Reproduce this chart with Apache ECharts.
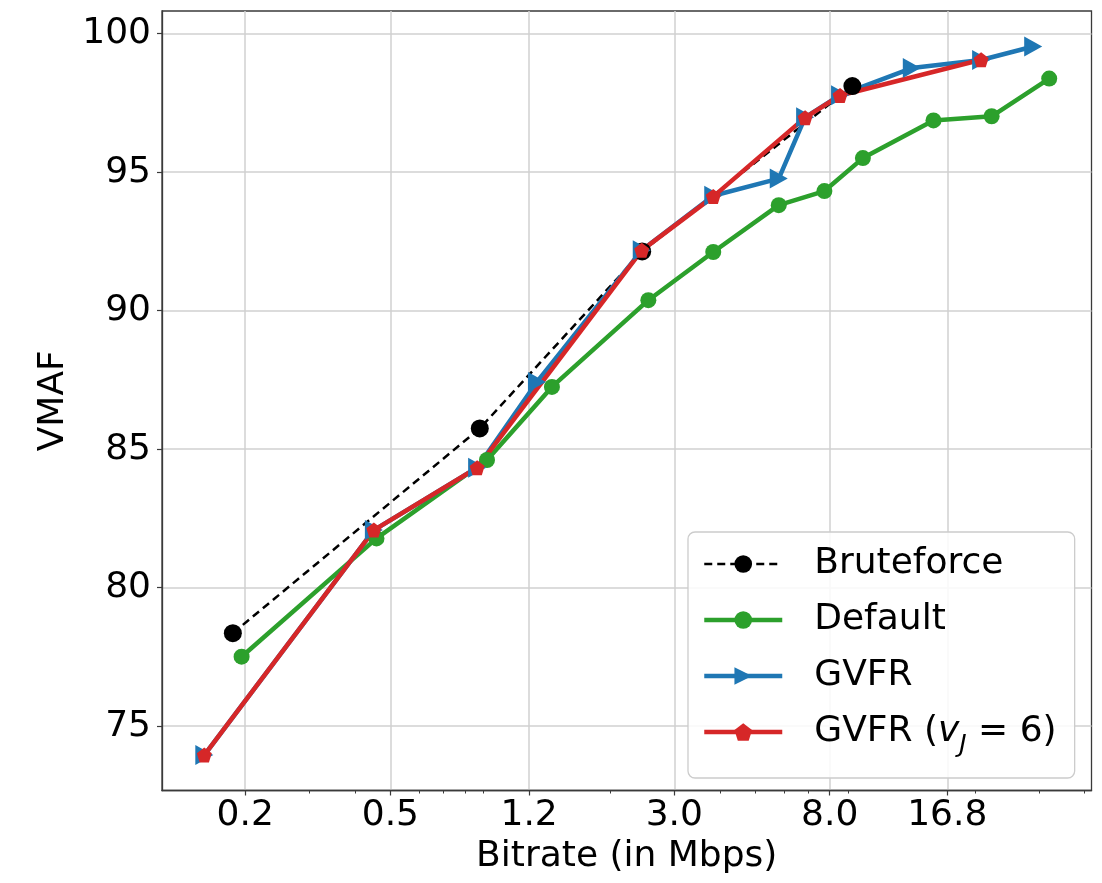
<!DOCTYPE html>
<html>
<head>
<meta charset="utf-8">
<script src="https://cdn.jsdelivr.net/npm/echarts@6/dist/echarts.min.js"></script>
<style>
html,body{margin:0;padding:0;background:#fff;}
#chart{width:1102px;height:883px;}
</style>
</head>
<body>
<div id="chart"></div>
<script>
// ---- data ----
const bitrateTicks = [0.2, 0.5, 1.2, 3.0, 8.0, 16.8];
const minorTicks = [0.2, 0.3, 0.4, 0.5, 0.6, 0.7, 0.8, 0.9, 2, 3, 4, 5, 6, 7, 8, 9, 20, 30, 40];
const vmafTicks = [75, 80, 85, 90, 95, 100];

const bruteforceX = [0.185, 0.879, 2.45, 9.23];
const bruteforceY = [78.36, 85.75, 92.14, 98.11];

const defaultX = [0.1955, 0.458, 0.920, 1.386, 2.547, 3.836, 5.80, 7.737, 9.865, 15.40, 22.23, 31.97];
const defaultY = [77.51, 81.78, 84.61, 87.25, 90.38, 92.12, 93.81, 94.32, 95.51, 96.87, 97.02, 98.38];

const gvfrX = [0.1545, 0.4505, 0.8645, 1.261, 2.443, 3.836, 5.80, 6.85, 8.54, 13.43, 20.8, 28.9];
const gvfrY = [73.96, 82.08, 84.33, 87.43, 92.18, 94.15, 94.77, 96.98, 97.78, 98.76, 99.05, 99.54];

const gvfrJX = [0.1545, 0.4505, 0.8645, 2.443, 3.836, 6.85, 8.54, 20.8];
const gvfrJY = [73.96, 82.08, 84.33, 92.18, 94.12, 96.97, 97.77, 99.06];

const xMin = 0.1183, xMax = 41.75;
const yMin = 72.68, yMax = 100.82;

function pairs(xs, ys) { return xs.map((x, i) => [x, ys[i]]); }

const FONT = 'DejaVu Sans';
const pentagon = 'path://M0,-1 L0.951,-0.309 L0.588,0.809 L-0.588,0.809 L-0.951,-0.309 Z';

const chart = echarts.init(document.getElementById('chart'), null, {renderer: 'canvas'});
chart.setOption({
  animation: false,
  backgroundColor: '#ffffff',
  textStyle: {fontFamily: FONT},
  grid: {
    left: 162, right: 10.5, top: 11, bottom: 92.5,
    show: true, borderColor: '#3a3a3a', borderWidth: 1.3,
    outerBoundsMode: 'none', containLabel: false
  },
  xAxis: [{
    type: 'log', logBase: 10, min: xMin, max: xMax,
    name: 'Bitrate (in Mbps)', nameLocation: 'middle', nameGap: 47,
    nameTextStyle: {fontFamily: FONT, fontSize: 36, color: '#000', lineHeight: 36},
    axisLine: {show: true, lineStyle: {color: '#3a3a3a', width: 1.3}},
    axisTick: {show: true, inside: false, length: 5, customValues: bitrateTicks, lineStyle: {color: '#3a3a3a', width: 1.2}},
    axisLabel: {customValues: bitrateTicks, margin: 7, fontFamily: FONT, fontSize: 36, color: '#000', lineHeight: 36,
      formatter: v => Number(v).toFixed(1)},
    splitLine: {show: true, lineStyle: {color: '#d0d0d0', width: 1.5}},
    minorTick: {show: false}
  }, {
    type: 'log', logBase: 10, min: xMin, max: xMax, position: 'bottom', gridIndex: 0,
    axisLine: {show: false},
    axisTick: {show: true, inside: false, length: 3, customValues: minorTicks, lineStyle: {color: '#3a3a3a', width: 1}},
    axisLabel: {show: false},
    splitLine: {show: false}
  }],
  yAxis: {
    type: 'value', min: yMin, max: yMax,
    name: 'VMAF', nameLocation: 'middle', nameGap: 88,
    nameTextStyle: {fontFamily: FONT, fontSize: 36, color: '#000', lineHeight: 36},
    axisLine: {show: true, lineStyle: {color: '#3a3a3a', width: 1.3}},
    axisTick: {show: true, inside: false, length: 5, customValues: vmafTicks, lineStyle: {color: '#3a3a3a', width: 1.2}},
    axisLabel: {customValues: vmafTicks, margin: 11, fontFamily: FONT, fontSize: 36, color: '#000', lineHeight: 36},
    splitLine: {show: true, lineStyle: {color: '#d0d0d0', width: 1.5}}
  },
  legend: {
    orient: 'vertical', left: 688, top: 532,
    padding: [14, 18, 20, 14], itemGap: 20,
    itemWidth: 78, itemHeight: 22,
    backgroundColor: 'rgba(255,255,255,0.85)', borderColor: '#cccccc', borderWidth: 1.3, borderRadius: 7,
    textStyle: {fontFamily: FONT, fontSize: 36, color: '#000', lineHeight: 36, padding: [0, 0, 0, 27],
      rich: {
        t: {fontFamily: FONT, fontSize: 36, color: '#000', lineHeight: 36},
        v: {fontFamily: FONT, fontSize: 36, fontStyle: 'italic', color: '#000', lineHeight: 36},
        j: {fontFamily: FONT, fontSize: 25, fontStyle: 'italic', color: '#000', lineHeight: 36, verticalAlign: 'bottom', padding: [0, 0, -8, 0]}
      }},
    formatter: name => name === 'GVFR (vJ = 6)' ? '{t|GVFR (}{v|v}{j|J}{t| = 6)}' : name,
    data: [
      {name: 'Bruteforce', lineStyle: {width: 2.5, type: [8, 5], color: '#000000'}},
      {name: 'Default', lineStyle: {width: 4.5, color: '#2ca02c'}},
      {name: 'GVFR', lineStyle: {width: 4.5, color: '#1f77b4'}},
      {name: 'GVFR (vJ = 6)', lineStyle: {width: 4.5, color: '#d62728'}}
    ]
  },
  series: [
    {
      name: 'Bruteforce', type: 'line', xAxisIndex: 0, data: pairs(bruteforceX, bruteforceY),
      symbol: 'circle', symbolSize: 18, showAllSymbol: true,
      itemStyle: {color: '#000000'},
      lineStyle: {color: '#000000', width: 2.5, type: [8, 5]}
    },
    {
      name: 'Default', type: 'line', xAxisIndex: 0, data: pairs(defaultX, defaultY),
      symbol: 'circle', symbolSize: 16, showAllSymbol: true,
      itemStyle: {color: '#2ca02c'},
      lineStyle: {color: '#2ca02c', width: 4.5, join: 'round'}
    },
    {
      name: 'GVFR', type: 'line', xAxisIndex: 0, data: pairs(gvfrX, gvfrY),
      symbol: 'triangle', symbolRotate: -90, symbolSize: [20, 18], showAllSymbol: true,
      itemStyle: {color: '#1f77b4'},
      lineStyle: {color: '#1f77b4', width: 4.5, join: 'round'}
    },
    {
      name: 'GVFR (vJ = 6)', type: 'line', xAxisIndex: 0, data: pairs(gvfrJX, gvfrJY),
      symbol: pentagon, symbolSize: 15, showAllSymbol: true,
      itemStyle: {color: '#d62728'},
      lineStyle: {color: '#d62728', width: 4.5, join: 'round'}
    }
  ]
});
</script>
</body>
</html>
